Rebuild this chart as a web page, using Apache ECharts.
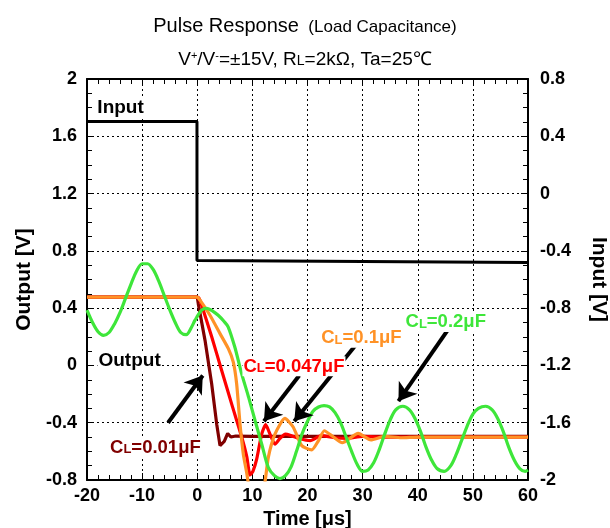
<!DOCTYPE html>
<html>
<head>
<meta charset="utf-8">
<script src="https://cdn.jsdelivr.net/npm/echarts@6/dist/echarts.min.js"></script>
<style>
html,body{margin:0;padding:0;background:#fff;}
#chart{width:610px;height:528px;}
</style>
</head>
<body>
<div id="chart"></div>
<script>
// ---- Data ----
// Input pulse (right axis, V)
const inputT = [-20, -0.05, -0.05, 60];
const inputV = [0.503, 0.503, -0.468, -0.482];

// Output, CL = 0.01 uF
const c001T = [-20, 0, 0.19, 1.41, 2.62, 3.53, 4.13, 4.9, 5.52, 6.1, 7, 10, 20, 30, 40, 50, 60];
const c001V = [0.477, 0.477, 0.43, 0.175, -0.13, -0.41, -0.56, -0.53, -0.475, -0.50, -0.493, -0.495, -0.495, -0.495, -0.495, -0.495, -0.495];

// Output, CL = 0.047 uF
const c047T = [-20, 0, 0.3, 0.8, 2.62, 4.43, 6.25, 8.06, 9.0, 9.57, 10.1, 10.78, 11.69, 12.42, 13.2, 14.1, 15.0, 16.0, 17.0, 18.5, 20.5, 22.5, 25, 27, 30, 33, 40, 50, 60];
const c047V = [0.477, 0.477, 0.47, 0.42, 0.20, -0.035, -0.27, -0.50, -0.64, -0.765, -0.74, -0.655, -0.48, -0.414, -0.48, -0.55, -0.51, -0.48, -0.49, -0.51, -0.525, -0.49, -0.505, -0.51, -0.495, -0.50, -0.50, -0.50, -0.50];

// Output, CL = 0.1 uF
const c01T = [-20, 0, 0.5, 2.31, 4.13, 5.64, 6.54, 7.15, 7.76, 8.36, 8.97, 9.26, 10, 10.8, 11.6, 12.3, 12.9, 14.1, 15.9, 17.4, 18.95, 20.76, 21.97, 23.05, 24.7, 26.3, 29.2, 31.5, 34, 37, 40, 45, 50, 60];
const c01V = [0.477, 0.477, 0.456, 0.35, 0.222, 0.117, 0.023, -0.13, -0.41, -0.62, -0.75, -0.82, -0.93, -0.99, -0.93, -0.81, -0.64, -0.48, -0.37, -0.43, -0.56, -0.59, -0.526, -0.456, -0.50, -0.54, -0.475, -0.52, -0.495, -0.505, -0.50, -0.50, -0.50, -0.50];

// Output, CL = 0.2 uF
const c02T = [-20, -19, -18, -17, -16, -15, -14, -13, -12, -11, -10, -9, -8, -7, -6, -5, -4, -3, -2, -1, -0.4, 0.8, 1.7, 2.8, 3.8, 4.8, 5.6, 6.8, 8.0, 9.3, 10.5, 11.7, 12.9, 14, 15, 16, 17, 18, 19, 20, 21, 22, 23, 24, 25, 26, 27, 28, 29, 30, 31, 32, 33, 34, 35, 36, 37.3, 38.5, 39.5, 40.5, 41.5, 42.5, 43.5, 44.8, 46, 47, 48, 49, 50, 51, 52.3, 53.5, 54.5, 55.5, 56.5, 57.5, 58.5, 59.5, 60];
const c02V = [0.386, 0.30, 0.235, 0.21, 0.23, 0.29, 0.37, 0.47, 0.57, 0.66, 0.71, 0.71, 0.67, 0.59, 0.49, 0.39, 0.30, 0.23, 0.215, 0.27, 0.316, 0.386, 0.398, 0.38, 0.35, 0.31, 0.27, 0.13, -0.05, -0.22, -0.386, -0.55, -0.714, -0.77, -0.79, -0.77, -0.71, -0.60, -0.48, -0.39, -0.32, -0.29, -0.28, -0.29, -0.33, -0.40, -0.50, -0.60, -0.69, -0.74, -0.73, -0.68, -0.59, -0.48, -0.38, -0.31, -0.285, -0.31, -0.37, -0.46, -0.57, -0.66, -0.72, -0.74, -0.70, -0.62, -0.52, -0.42, -0.34, -0.30, -0.285, -0.31, -0.37, -0.46, -0.57, -0.66, -0.72, -0.74, -0.73];

// Axis ranges / ticks
const xRange = [-20, 60, 10];
const yLeftRange = [-0.8, 2, 0.4];
const yRightRange = [-2, 0.8, 0.4];

// Annotation texts and anchors (data coordinates, left axis)
const labelTexts = ['Input', 'Output', '0.01', '0.047', '0.1', '0.2'];
const labelAnchors = [[-18.3, 1.80], [-18.1, 0.03], [-16.0, -0.57], [8.2, -0.005], [22.3, 0.194], [37.6, 0.304]];
const arrowFrom = [[-5.3, -0.40], [18.5, -0.07], [28.9, 0.15], [45.5, 0.25]];
const arrowTo = [[1.0, -0.07], [12.1, -0.39], [17.6, -0.39], [36.5, -0.25]];

// ---- Styling ----
const FONT = "'Liberation Sans', Arial, sans-serif";
const colBrown = '#800000', colRed = '#ff0000', colOrange = '#ff9226', colGreen = '#3ee63a';
const zip = (t, v) => t.map((x, i) => [x, v[i]]);

const clRich = (col) => ({
  c: {fontFamily: FONT, fontWeight: 'bold', fontSize: 18.5, color: col},
  l: {fontFamily: FONT, fontWeight: 'bold', fontSize: 13, color: col, verticalAlign: 'bottom', padding: [0, 0, 1, 0]}
});

const labelColors = ['#000', '#000', colBrown, colRed, colOrange, colGreen];
const markPoints = labelTexts.map((txt, i) => {
  const isCL = i >= 2;
  return {
    coord: labelAnchors[i],
    symbolSize: 0,
    label: {
      show: true,
      position: 'right',
      distance: 0,
      backgroundColor: '#fff',
      padding: [1, 1, 0, 1],
      formatter: isCL ? ('{c|C}{l|L}{c|=' + txt + 'μF}') : txt,
      rich: isCL ? clRich(labelColors[i]) : undefined,
      fontFamily: FONT, fontWeight: 'bold', fontSize: 19, color: labelColors[i]
    }
  };
});
const arrows = arrowFrom.map((p, i) => [{coord: p}, {coord: arrowTo[i]}]);

const axisLbl = {fontFamily: FONT, fontWeight: 'bold', fontSize: 18, color: '#000'};
const nameStyle = {fontFamily: FONT, fontWeight: 'bold', fontSize: 20, color: '#000'};
const yNameStyle = {fontFamily: FONT, fontWeight: 'bold', fontSize: 21, color: '#000'};
const gridLine = {show: true, lineStyle: {color: '#000', width: 1, type: [2, 3]}};

const chart = echarts.init(document.getElementById('chart'));
chart.setOption({
  animation: false,
  backgroundColor: '#fff',
  title: [
    {
      left: 'center', top: 11,
      text: '{a|Pulse Response}{b|  (Load Capacitance)}',
      textStyle: {
        fontWeight: 'normal',
        rich: {
          a: {fontFamily: FONT, fontWeight: 'normal', fontSize: 20, color: '#000'},
          b: {fontFamily: FONT, fontWeight: 'normal', fontSize: 17, color: '#000', padding: [2, 0, 0, 0]}
        }
      }
    },
    {
      left: 'center', top: 45,
      text: 'V{s|+}/V{s|-}=±15V, R{l|L}=2kΩ, Ta=25℃',
      textStyle: {
        fontFamily: FONT, fontWeight: 'normal', fontSize: 19, color: '#000',
        rich: {
          s: {fontFamily: FONT, fontWeight: 'normal', fontSize: 11, color: '#000', verticalAlign: 'top'},
          l: {fontFamily: FONT, fontWeight: 'normal', fontSize: 14, color: '#000', verticalAlign: 'bottom', padding: [0, 0, 1, 0]}
        }
      }
    }
  ],
  grid: {left: 87, right: 82, top: 79, bottom: 48, containLabel: false, outerBoundsMode: 'none'},
  xAxis: [
    {
      type: 'value', position: 'bottom', min: xRange[0], max: xRange[1], interval: xRange[2],
      name: 'Time [μs]', nameLocation: 'middle', nameGap: 25, nameTextStyle: nameStyle,
      axisLine: {show: true, onZero: false, lineStyle: {color: '#000', width: 2}},
      axisTick: {show: true, inside: true, length: 7, lineStyle: {color: '#000', width: 1}},
      minorTick: {show: true, splitNumber: 5, length: 5, lineStyle: {color: '#000', width: 1}},
      axisLabel: Object.assign({margin: 7}, axisLbl),
      splitLine: gridLine
    },
    {
      type: 'value', position: 'top', min: xRange[0], max: xRange[1], interval: xRange[2],
      axisLine: {show: true, onZero: false, lineStyle: {color: '#000', width: 2}},
      axisTick: {show: true, inside: true, length: 7, lineStyle: {color: '#000', width: 1}},
      minorTick: {show: true, splitNumber: 5, length: 5, lineStyle: {color: '#000', width: 1}},
      axisLabel: {show: false},
      splitLine: {show: false}
    }
  ],
  yAxis: [
    {
      type: 'value', position: 'left', min: yLeftRange[0], max: yLeftRange[1], interval: yLeftRange[2],
      name: 'Output [V]', nameLocation: 'middle', nameGap: 50, nameRotate: 90, nameTextStyle: yNameStyle,
      axisLine: {show: true, onZero: false, lineStyle: {color: '#000', width: 2}},
      axisTick: {show: true, inside: true, length: 7, lineStyle: {color: '#000', width: 1}},
      minorTick: {show: true, splitNumber: 4, length: 5, lineStyle: {color: '#000', width: 1}},
      axisLabel: Object.assign({margin: 10, formatter: v => String(Math.round(v * 10) / 10)}, axisLbl),
      splitLine: gridLine
    },
    {
      type: 'value', position: 'right', min: yRightRange[0], max: yRightRange[1], interval: yRightRange[2],
      name: 'Input [V]', nameLocation: 'middle', nameGap: 60, nameRotate: -90, nameTextStyle: yNameStyle,
      axisLine: {show: true, onZero: false, lineStyle: {color: '#000', width: 2}},
      axisTick: {show: true, inside: true, length: 7, lineStyle: {color: '#000', width: 1}},
      minorTick: {show: true, splitNumber: 4, length: 5, lineStyle: {color: '#000', width: 1}},
      axisLabel: Object.assign({margin: 12, formatter: v => String(Math.round(v * 10) / 10)}, axisLbl),
      splitLine: {show: false}
    }
  ],
  series: [
    {
      name: 'Input', type: 'line', yAxisIndex: 1, data: zip(inputT, inputV),
      showSymbol: false, lineStyle: {color: '#000', width: 3}, z: 3
    },
    {
      name: 'labels', type: 'line', data: [], yAxisIndex: 0,
      markPoint: {silent: true, data: markPoints, z: 5},
      markLine: {
        silent: true, symbol: ['none', 'arrow'], symbolSize: 17,
        lineStyle: {color: '#000', width: 4, type: 'solid'},
        label: {show: false}, data: arrows
      }, z: 4
    },
    {
      name: 'CL=0.01uF', type: 'line', data: zip(c001T, c001V),
      showSymbol: false, lineStyle: {color: colBrown, width: 3.2}, z: 3
    },
    {
      name: 'CL=0.047uF', type: 'line', data: zip(c047T, c047V), smooth: 0.2,
      showSymbol: false, lineStyle: {color: colRed, width: 3.2}, z: 3
    },
    {
      name: 'CL=0.1uF', type: 'line', data: zip(c01T, c01V), smooth: 0.2,
      showSymbol: false, lineStyle: {color: colOrange, width: 3.2}, z: 3
    },
    {
      name: 'CL=0.2uF', type: 'line', data: zip(c02T, c02V), smooth: 0.3,
      showSymbol: false, lineStyle: {color: colGreen, width: 3.2}, z: 3
    }
  ]
});
</script>
</body>
</html>
